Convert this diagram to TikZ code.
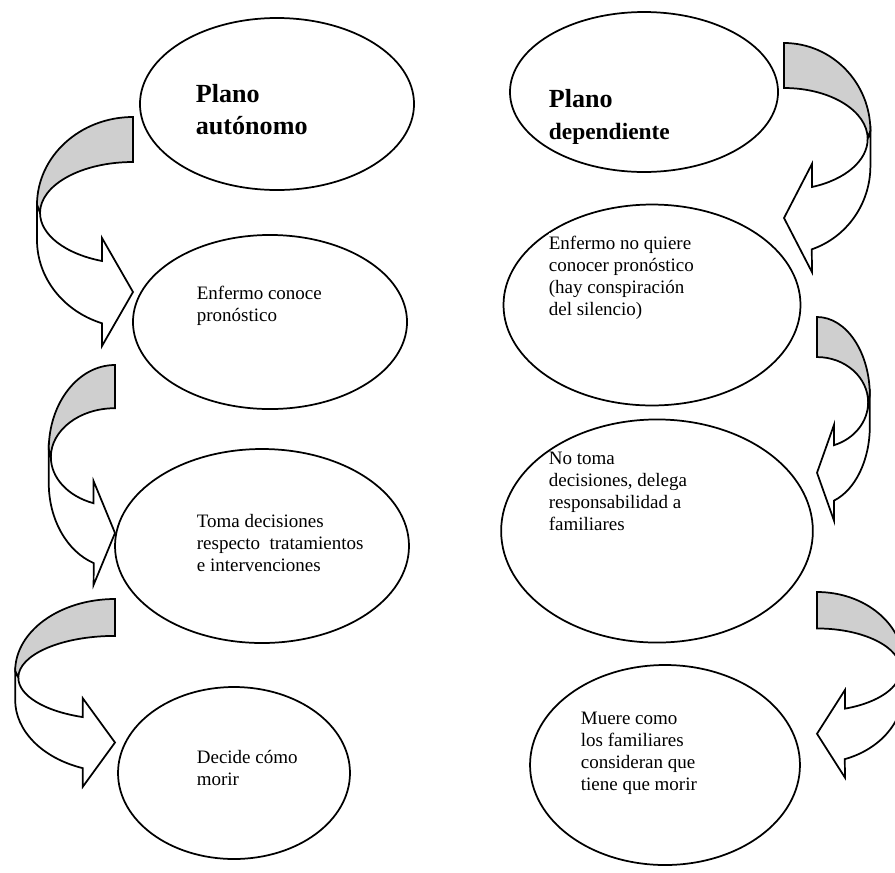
\documentclass[tikz,border=0pt]{standalone}
\usepackage{fontspec}
\setmainfont{Liberation Serif}
\usetikzlibrary{shapes.geometric}
\definecolor{bandgray}{RGB}{207,207,207}

\begin{document}
\begin{tikzpicture}[x=0.632pt,y=0.632pt,line width=1.1pt,
      oval/.style={draw,ellipse,fill=white,inner sep=0pt},
      txt/.style={anchor=north west,inner sep=0pt,align=left,
        font=\fontsize{12}{13.9}\selectfont},
      head/.style={txt,font=\fontsize{16.5}{20.2}\selectfont\bfseries},
      bend arrow/.pic={
        \filldraw[fill=bandgray] (0,0) arc[start angle=90,end angle=180,x radius=96,y radius=88]
          -- (-93,-96) arc[start angle=180,end angle=90,x radius=93,y radius=51] -- cycle;
        \filldraw[fill=white] (-96,-88) -- (-96,-123)
          arc[start angle=180,end angle=251.2,x radius=96,y radius=88]
          -- (-31,-229) -- (0,-175) -- (-31,-121) -- (-31,-144)
          arc[start angle=250.5,end angle=180,x radius=93,y radius=51] -- cycle;
      },
      ]
      \useasboundingbox (0,0) rectangle (895,-872);
      % left column
      \node[oval,minimum width=173.2pt,minimum height=108.7pt] (e1) at (277,-104) {};
      \node[oval,minimum width=173.2pt,minimum height=110pt] (e2) at (270,-322) {};
      \node[oval,minimum width=185.8pt,minimum height=122.6pt] (e3) at (262,-546) {};
      \node[oval,minimum width=146.6pt,minimum height=108.7pt] (e4) at (234,-773) {};
      % right column
      \node[oval,minimum width=169.4pt,minimum height=101.1pt] (e5) at (644,-92) {};
      \node[oval,minimum width=187.7pt,minimum height=127pt] (e6) at (652,-305) {};
      \node[oval,minimum width=197pt,minimum height=141pt] (e7) at (657,-531) {};
      \node[oval,minimum width=170.6pt,minimum height=126.4pt] (e8) at (665,-765) {};

      \node[head] (t1) at (195,-84) {Plano\\autónomo};
      \node[txt] (t2) at (196,-285) {Enfermo conoce\\pronóstico};
      \node[txt] (t3) at (196,-513) {Toma decisiones\\respecto\ \ tratamientos\\e intervenciones};
      \node[txt] (t4) at (196,-749) {Decide cómo\\morir};
      \node[head] (t5) at (548,-89) {Plano\\{\fontsize{14.8}{20.2}\selectfont dependiente}};
      \node[txt,fill=white,inner ysep=2pt] (t6) at (548,-232) {Enfermo no quiere\\conocer pronóstico\\(hay conspiración\\del silencio)};
      \node[txt] (t7) at (548,-451) {No toma\\decisiones, delega\\responsabilidad a\\familiares};
      \node[txt] (t8) at (580,-711) {Muere como\\los familiares\\consideran que\\tiene que morir};

      % curved arrows
      \pic at (133,-117) {bend arrow};
      \pic[xscale=0.69,yscale=0.96] at (115,-365) {bend arrow};
      \pic[xscale=1.04,yscale=0.82] at (115,-599) {bend arrow};
      \pic[xscale=-0.9] at (784,-43) {bend arrow};
      \pic[xscale=-0.55,yscale=0.89] at (817,-317) {bend arrow};
      \pic[xscale=-0.9,yscale=0.81] at (817,-592) {bend arrow};
    \end{tikzpicture}
\end{document}
